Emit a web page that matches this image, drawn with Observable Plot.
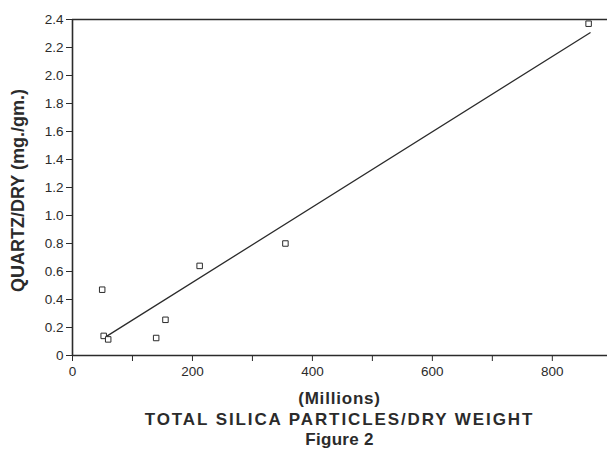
<!DOCTYPE html>
<html>
<head>
<meta charset="utf-8">
<script src="https://cdn.jsdelivr.net/npm/d3@7"></script>
<script src="https://cdn.jsdelivr.net/npm/@observablehq/plot@0.6"></script>
<style>
  html, body { margin: 0; padding: 0; background: #fff; }
  body { width: 607px; height: 451px; overflow: hidden; font-family: "Liberation Sans", Arial, sans-serif; color: #2b2b2b; }
  .cap { padding-left: 72px; width: 535px; text-align: center; font-weight: bold; font-size: 17px; line-height: 21px; white-space: nowrap; }
  #caps { margin-top: 3px; }
</style>
</head>
<body>
<div id="chart"></div>
<div id="caps">
  <div class="cap" style="letter-spacing:0.8px">(Millions)</div>
  <div class="cap" style="letter-spacing:1.9px">TOTAL SILICA PARTICLES/DRY WEIGHT</div>
  <div class="cap" style="letter-spacing:0.3px;line-height:20px">Figure 2</div>
</div>
<script>
// Data
const particles = [49.5, 52, 59.5, 139.5, 155, 212, 355, 860.5];   // total silica particles / dry weight (millions)
const quartz    = [0.47, 0.14, 0.115, 0.125, 0.255, 0.64, 0.80, 2.37]; // quartz / dry (mg./gm.)
const fitX = [56, 863];        // fitted line endpoints (x)
const fitY = [0.135, 2.305];   // fitted line endpoints (y)
const xTicks = [0, 100, 200, 300, 400, 500, 600, 700, 800];
const yTicks = [0, 0.2, 0.4, 0.6, 0.8, 1.0, 1.2, 1.4, 1.6, 1.8, 2.0, 2.2, 2.4];
const yLabel = "QUARTZ/DRY (mg./gm.)";

const points = particles.map((x, i) => ({x, y: quartz[i]}));
const fit = fitX.map((x, i) => ({x, y: fitY[i]}));
const ink = "#2b2b2b";

const plot = Plot.plot({
  width: 607,
  height: 385,
  marginLeft: 72,
  marginRight: 0,
  marginTop: 19,
  marginBottom: 30,
  style: {fontFamily: "'Liberation Sans', Arial, sans-serif", fontSize: "13.5px", color: ink, background: "#fff"},
  x: {domain: [0, 892]},
  y: {domain: [0, 2.4]},
  marks: [
    Plot.axisX({ticks: xTicks, tickSize: 6, tickPadding: 5, label: null, stroke: ink,
      tickFormat: d => d % 200 === 0 ? String(d) : ""}),
    Plot.axisY({ticks: yTicks, tickSize: 6, tickPadding: 3, label: null, stroke: ink,
      tickFormat: d => d === 0 ? "0" : d.toFixed(1)}),
    Plot.ruleX([0], {stroke: ink, strokeWidth: 1.6}),
    Plot.ruleY([0], {stroke: ink, strokeWidth: 1.6}),
    Plot.ruleY([2.4], {stroke: ink, strokeWidth: 1.6}),
    Plot.line(fit, {x: "x", y: "y", stroke: ink, strokeWidth: 1.3}),
    Plot.dot(points, {x: "x", y: "y", symbol: "square", r: 3.1, stroke: ink, strokeWidth: 1, fill: "#fff"}),
    Plot.text([yLabel], {frameAnchor: "left", text: d => d, rotate: -90, dx: -54.5, dy: 3,
      textAnchor: "middle", fontWeight: "bold", fontSize: 18, fill: ink, letterSpacing: "1.5px"})
  ]
});
document.getElementById("chart").appendChild(plot);
</script>
</body>
</html>
